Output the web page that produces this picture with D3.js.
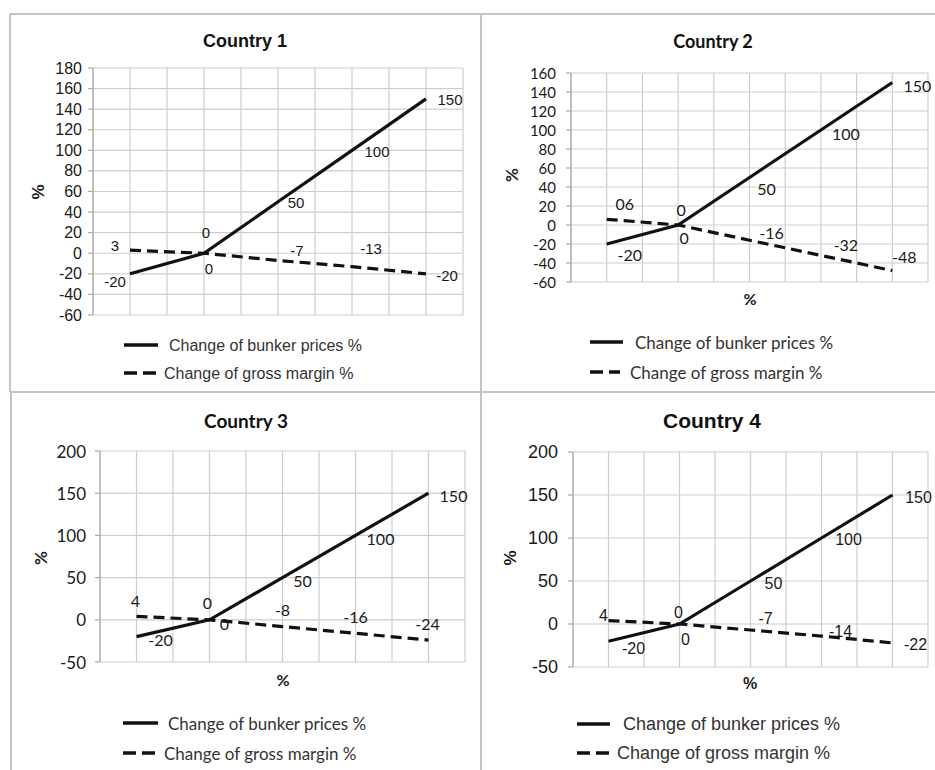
<!DOCTYPE html>
<html>
<head>
<meta charset="utf-8">
<script src="https://cdn.jsdelivr.net/npm/d3@7"></script>
<style>
  html, body { margin: 0; padding: 0; background: #fff; }
  svg { display: block; }
</style>
</head>
<body>
<svg id="chart" width="935" height="770"></svg>
<script>
// ---------------- DATA ----------------
const categories = ["S1", "S2", "S3", "S4", "S5"];
const seriesNames = ["Change of bunker prices %", "Change of gross margin %"];

const bunkerPrices1 = [-20, 0, 50, 100, 150];
const bunkerPrices2 = [-20, 0, 50, 100, 150];
const bunkerPrices3 = [-20, 0, 50, 100, 150];
const bunkerPrices4 = [-20, 0, 50, 100, 150];

const grossMargin1 = [3, 0, -7, -13, -20];
const grossMargin2 = [6, 0, -16, -32, -48];
const grossMargin3 = [4, 0, -8, -16, -24];
const grossMargin4 = [4, 0, -7, -14, -22];

const grossMarginLabels2 = ["06", "0", "-16", "-32", "-48"];

const yTicks1 = [-60, -40, -20, 0, 20, 40, 60, 80, 100, 120, 140, 160, 180];
const yTicks2 = [-60, -40, -20, 0, 20, 40, 60, 80, 100, 120, 140, 160];
const yTicks3 = [-50, 0, 50, 100, 150, 200];
const yTicks4 = [-50, 0, 50, 100, 150, 200];

const titles = ["Country 1", "Country 2", "Country 3", "Country 4"];

// ---------------- STYLE / LAYOUT ----------------
const ARIAL = "'Liberation Sans', Arial, sans-serif";
const CALIBRI = "Lato, 'Open Sans', sans-serif";

const panels = [
  {
    title: titles[0], bunker: bunkerPrices1, gross: grossMargin1, grossLabels: null, ticks: yTicks1,
    font: ARIAL, plot: {l: 93, r: 463, t: 68, b: 315},
    titlePos: {x: 245, y: 47, size: 18}, tickX: 82, tickSize: 16,
    yTitle: {x: 38, y: 192}, xTitle: null,
    legend: [{x1: 124, x2: 158, y: 345, tx: 169}, {x1: 124, x2: 157, y: 373, tx: 164}], legendSize: 16,
    labelSize: 15,
    bunkerOff: [[-15, 8], [2, -21], [18, 1], [25, 1], [24, 1]],
    grossOff: [[-15, -5], [5, 15], [19, -10], [19, -18], [21, 2]]
  },
  {
    title: titles[1], bunker: bunkerPrices2, gross: grossMargin2, grossLabels: grossMarginLabels2, ticks: yTicks2,
    font: CALIBRI, plot: {l: 571, r: 928, t: 73, b: 282},
    titlePos: {x: 713, y: 48, size: 18}, tickX: 556, tickSize: 15,
    yTitle: {x: 511, y: 175}, xTitle: {x: 750, y: 298},
    legend: [{x1: 590, x2: 623, y: 342, tx: 635}, {x1: 590, x2: 620, y: 372, tx: 630}], legendSize: 17,
    labelSize: 16,
    bunkerOff: [[23, 10], [3, -16], [17, 11], [25, 3], [25, 3]],
    grossOff: [[18, -16], [6, 12], [22, -8], [25, -11], [12, -14]]
  },
  {
    title: titles[2], bunker: bunkerPrices3, gross: grossMargin3, grossLabels: null, ticks: yTicks3,
    font: CALIBRI, plot: {l: 100, r: 465, t: 451, b: 662},
    titlePos: {x: 246, y: 428, size: 19}, tickX: 86, tickSize: 17,
    yTitle: {x: 40, y: 558}, xTitle: {x: 283, y: 679},
    legend: [{x1: 123, x2: 158, y: 723, tx: 168}, {x1: 123, x2: 157, y: 753, tx: 164}], legendSize: 17,
    labelSize: 16,
    bunkerOff: [[24, 3], [-2, -17], [20, 3], [25, 3], [25, 2]],
    grossOff: [[-1, -16], [15, 4], [0, -17], [0, -17], [-1, -17]]
  },
  {
    title: titles[3], bunker: bunkerPrices4, gross: grossMargin4, grossLabels: null, ticks: yTicks4,
    font: ARIAL, plot: {l: 573, r: 928, t: 452, b: 667},
    titlePos: {x: 712, y: 428, size: 21}, tickX: 558, tickSize: 18,
    yTitle: {x: 510, y: 558}, xTitle: {x: 750, y: 683},
    legend: [{x1: 577, x2: 610, y: 724, tx: 623}, {x1: 577, x2: 610, y: 753, tx: 617}], legendSize: 18,
    labelSize: 16,
    bunkerOff: [[25, 7], [-1, -12], [23, 2], [27, 1], [26, 2]],
    grossOff: [[-5, -5], [6, 15], [15, -12], [19, -5], [23, 2]]
  }
];

const GRID = "#cdcdcd";
const LINE = "#111";
const TEXT = "#1a1a1a";
const DASH = "11,6";

const svg = d3.select("#chart");

// panel frames
const frame = svg.append("g").attr("stroke", "#c4c4c4").attr("stroke-width", 2).attr("fill", "none");
frame.append("line").attr("x1", 10).attr("x2", 935).attr("y1", 14).attr("y2", 14);
frame.append("line").attr("x1", 10).attr("x2", 10).attr("y1", 14).attr("y2", 392);
frame.append("line").attr("x1", 11).attr("x2", 11).attr("y1", 392).attr("y2", 770);
frame.append("line").attr("x1", 481).attr("x2", 481).attr("y1", 14).attr("y2", 770);
frame.append("line").attr("x1", 10).attr("x2", 935).attr("y1", 392).attr("y2", 392);

panels.forEach(p => {
  const g = svg.append("g");
  const x = d3.scaleBand().domain(categories).range([p.plot.l, p.plot.r]).paddingInner(0).paddingOuter(0);
  const y = d3.scaleLinear().domain([p.ticks[0], p.ticks[p.ticks.length - 1]]).range([p.plot.b, p.plot.t]);
  const cx = c => x(c) + x.bandwidth() / 2;

  // vertical gridlines at band edges and centres
  const vPos = [];
  categories.forEach(c => { vPos.push(x(c)); vPos.push(cx(c)); });
  vPos.push(p.plot.r);
  g.append("g").selectAll("line").data(vPos).join("line")
    .attr("x1", d => d).attr("x2", d => d)
    .attr("y1", y.range()[1]).attr("y2", y.range()[0])
    .attr("stroke", GRID).attr("stroke-width", 1.2);

  // horizontal gridlines
  g.append("g").selectAll("line").data(p.ticks).join("line")
    .attr("x1", p.plot.l).attr("x2", p.plot.r)
    .attr("y1", d => y(d)).attr("y2", d => y(d))
    .attr("stroke", GRID).attr("stroke-width", 1.2);

  // y axis line + ticks
  g.append("line").attr("x1", p.plot.l).attr("x2", p.plot.l)
    .attr("y1", y.range()[1]).attr("y2", y.range()[0])
    .attr("stroke", "#aaa").attr("stroke-width", 1.2);
  g.append("g").selectAll("line").data(p.ticks).join("line")
    .attr("x1", p.plot.l - 5).attr("x2", p.plot.l)
    .attr("y1", d => y(d)).attr("y2", d => y(d))
    .attr("stroke", "#aaa").attr("stroke-width", 1.2);
  g.append("g").selectAll("text").data(p.ticks).join("text")
    .attr("x", p.tickX).attr("y", d => y(d))
    .attr("text-anchor", "end").attr("dominant-baseline", "central")
    .attr("font-family", p.font).attr("font-size", p.tickSize).attr("fill", TEXT)
    .text(d => d);

  // titles
  g.append("text").attr("x", p.titlePos.x).attr("y", p.titlePos.y)
    .attr("text-anchor", "middle").attr("font-family", p.font).attr("font-weight", "bold")
    .attr("font-size", p.titlePos.size).attr("fill", "#111").text(p.title);
  g.append("text").attr("transform", `translate(${p.yTitle.x},${p.yTitle.y}) rotate(-90)`)
    .attr("text-anchor", "middle").attr("dominant-baseline", "central")
    .attr("font-family", p.font).attr("font-weight", "bold").attr("font-size", 17).attr("fill", TEXT).text("%");
  if (p.xTitle) {
    g.append("text").attr("x", p.xTitle.x).attr("y", p.xTitle.y)
      .attr("text-anchor", "middle").attr("dominant-baseline", "central")
      .attr("font-family", p.font).attr("font-weight", "bold").attr("font-size", 16).attr("fill", TEXT).text("%");
  }

  // lines
  const line = d3.line().x((d, i) => cx(categories[i])).y(d => y(d));
  g.append("path").datum(p.gross).attr("d", line).attr("fill", "none")
    .attr("stroke", LINE).attr("stroke-width", 3.2).attr("stroke-dasharray", DASH);
  g.append("path").datum(p.bunker).attr("d", line).attr("fill", "none")
    .attr("stroke", LINE).attr("stroke-width", 3.2);

  // data labels
  const addLabels = (vals, offs, texts) => {
    g.append("g").selectAll("text").data(vals).join("text")
      .attr("x", (d, i) => cx(categories[i]) + offs[i][0])
      .attr("y", (d, i) => y(d) + offs[i][1])
      .attr("text-anchor", "middle").attr("dominant-baseline", "central")
      .attr("font-family", p.font).attr("font-size", p.labelSize).attr("fill", TEXT)
      .text((d, i) => texts ? texts[i] : d);
  };
  addLabels(p.bunker, p.bunkerOff, null);
  addLabels(p.gross, p.grossOff, p.grossLabels);

  // legend
  p.legend.forEach((L, i) => {
    g.append("line").attr("x1", L.x1).attr("x2", L.x2).attr("y1", L.y).attr("y2", L.y)
      .attr("stroke", LINE).attr("stroke-width", 3.5)
      .attr("stroke-dasharray", i === 1 ? "13,6" : null);
    g.append("text").attr("x", L.tx).attr("y", L.y)
      .attr("dominant-baseline", "central")
      .attr("font-family", p.font).attr("font-size", p.legendSize).attr("fill", "#333")
      .text(seriesNames[i]);
  });
});
</script>
</body>
</html>
